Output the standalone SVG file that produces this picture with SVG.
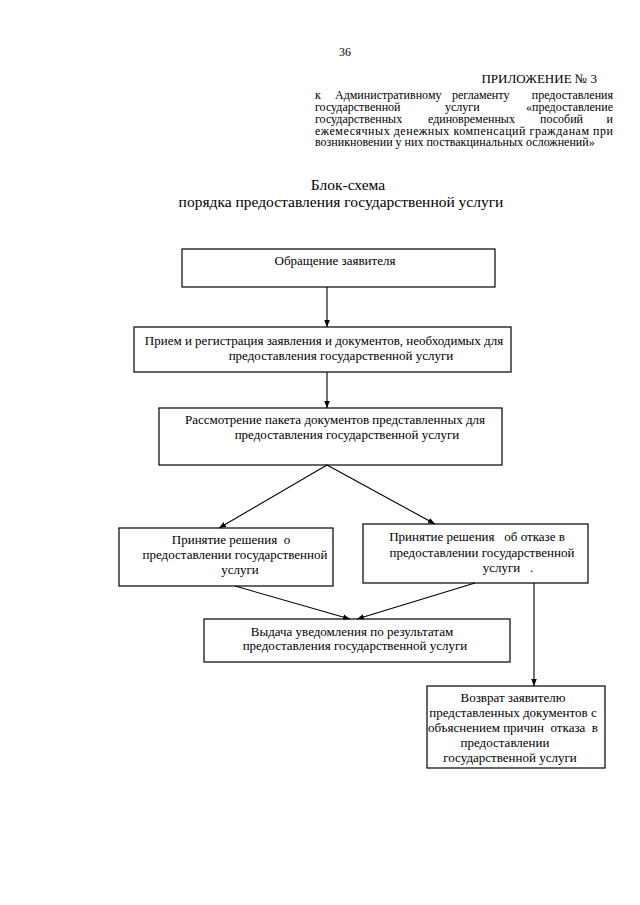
<svg xmlns="http://www.w3.org/2000/svg" width="640" height="905" viewBox="0 0 640 905" font-family="'Liberation Serif','DejaVu Serif','Noto Serif',serif">
<style>
text{font-family:'Liberation Serif','DejaVu Serif','Noto Serif',serif;fill:#000}
.h{font-size:12px}
.t{font-size:15.5px}
.b{font-size:13px;text-anchor:middle}
rect.n{fill:#fff;stroke:#000;stroke-width:1.2}
.c line{stroke:#000;stroke-width:1.1}
</style>
<defs>
<marker id="ah" viewBox="0 0 10 10" refX="10" refY="5" markerWidth="7" markerHeight="7" markerUnits="userSpaceOnUse" orient="auto">
<path d="M0,1 L10,5 L0,9 z" fill="#000"/>
</marker>
</defs>
<rect width="640" height="905" fill="#fff"/>
<g id="header">
<text x="345" y="56" class="h" text-anchor="middle">36</text>
<text x="597" y="83" style="font-size:13px" text-anchor="end">ПРИЛОЖЕНИЕ № 3</text>
<text class="h" y="99"><tspan x="315">к</tspan><tspan x="335">Административному</tspan><tspan x="452">регламенту</tspan><tspan x="613" text-anchor="end">предоставления</tspan></text>
<text class="h" y="111"><tspan x="315">государственной</tspan><tspan x="445">услуги</tspan><tspan x="613" text-anchor="end">«предоставление</tspan></text>
<text class="h" y="123"><tspan x="315">государственных</tspan><tspan x="428">единовременных</tspan><tspan x="540">пособий</tspan><tspan x="613" text-anchor="end">и</tspan></text>
<text class="h" y="135" x="315" textLength="298" lengthAdjust="spacing">ежемесячных денежных компенсаций гражданам при</text>
<text class="h" y="146" x="315">возникновении у них поствакцинальных осложнений»</text>
</g>
<g id="title">
<text class="t" x="348" y="190" text-anchor="middle">Блок-схема</text>
<text class="t" x="341" y="207" text-anchor="middle">порядка предоставления государственной услуги</text>
</g>
<g id="n1">
<rect class="n" x="182" y="249" width="313" height="38"/>
<text class="b" x="335" y="265">Обращение заявителя</text>
</g>
<g id="n2">
<rect class="n" x="134" y="327" width="377" height="45"/>
<text class="b" x="324" y="345">Прием и регистрация заявления и документов, необходимых для</text>
<text class="b" x="341" y="360">предоставления государственной услуги</text>
</g>
<g id="n3">
<rect class="n" x="159" y="408" width="343" height="57"/>
<text class="b" x="335" y="424">Рассмотрение пакета документов представленных для</text>
<text class="b" x="347" y="439">предоставления государственной услуги</text>
</g>
<g id="n4">
<rect class="n" x="119" y="528" width="214" height="58"/>
<text class="b" x="231" y="544" xml:space="preserve">Принятие решения  о</text>
<text class="b" x="235" y="559">предоставлении государственной</text>
<text class="b" x="240" y="574">услуги</text>
</g>
<g id="n5">
<rect class="n" x="363" y="524" width="225" height="59"/>
<text class="b" x="477" y="541" xml:space="preserve">Принятие решения   об отказе в</text>
<text class="b" x="482" y="557">предоставлении государственной</text>
<text class="b" x="508" y="572" xml:space="preserve">услуги   .</text>
</g>
<g id="n6">
<rect class="n" x="204" y="619" width="306" height="43"/>
<text class="b" x="352" y="636">Выдача уведомления по результатам</text>
<text class="b" x="355" y="650">предоставления государственной услуги</text>
</g>
<g id="n7">
<rect class="n" x="427" y="686" width="178" height="82"/>
<text class="b" x="513" y="702">Возврат заявителю</text>
<text class="b" x="513" y="717">представленных документов с</text>
<text class="b" x="513" y="732" xml:space="preserve">объяснением причин  отказа  в</text>
<text class="b" x="505" y="747">предоставлении</text>
<text class="b" x="510" y="762">государственной услуги</text>
</g>
<g id="connectors" class="c">
<line x1="327" y1="287" x2="327" y2="327" marker-end="url(#ah)"/>
<line x1="327" y1="372" x2="327" y2="408" marker-end="url(#ah)"/>
<line x1="327" y1="465" x2="219" y2="528" marker-end="url(#ah)"/>
<line x1="327" y1="465" x2="435" y2="524" marker-end="url(#ah)"/>
<line x1="235" y1="586" x2="350" y2="619" marker-end="url(#ah)"/>
<line x1="475" y1="583" x2="357" y2="619" marker-end="url(#ah)"/>
<line x1="534" y1="583" x2="534" y2="686" marker-end="url(#ah)"/>
</g>
</svg>
